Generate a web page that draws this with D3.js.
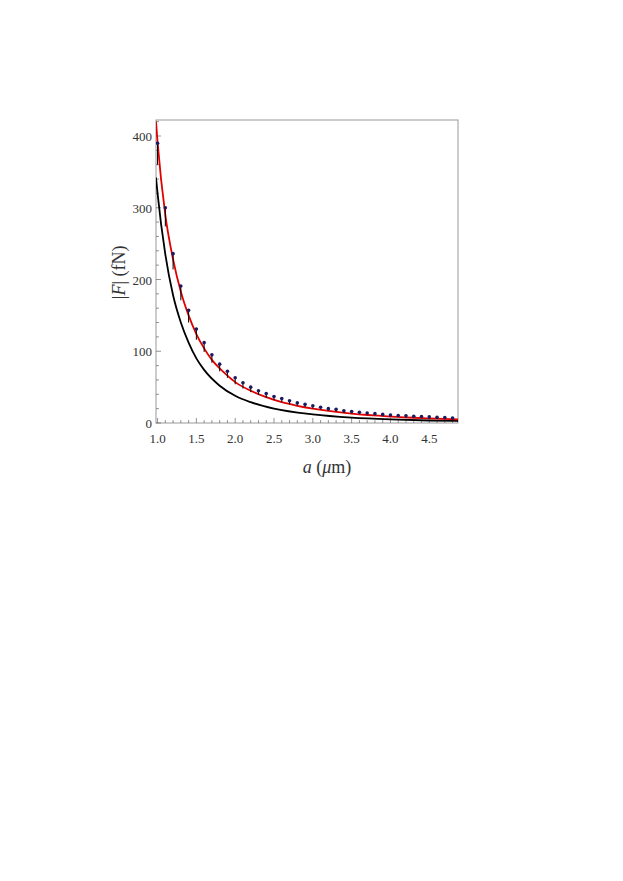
<!DOCTYPE html>
<html lang="en">
<head>
    <script src="https://cdnjs.cloudflare.com/ajax/libs/d3/7.8.5/d3.min.js"></script>
    <style>body{margin:0;background:#fff}</style>
</head>
<body>
<svg width="623" height="881" id="mainsvg"></svg>
<script>
    // measured points
    const pointA = [1.0,1.1,1.2,1.3,1.4,1.5,1.6,1.7,1.8,1.9,2.0,2.1,2.2,2.3,2.4,2.5,2.6,2.7,2.8,2.9,3.0,3.1,3.2,3.3,3.4,3.5,3.6,3.7,3.8,3.9,4.0,4.1,4.2,4.3,4.4,4.5,4.6,4.7,4.8]
    const pointF = [390,300,236,191,157,131,112,95,82,72,63,56,50,45,41,37,34,31,28,26,24,22,20,19,17,16,15,14,13,12,11,10.5,10,9.5,9,8.5,8,7.5,7]
    const pointErr = [30,26,22,20,17,15,13,11,10,9,9,8,7,6,6,5,5,5,4,4,4,3,3,3,3,3,2,2,2,2,2,2,2,2,2,2,2,2,2]
    // red theory curve
    const redA = [0.98,1.0,1.1,1.2,1.3,1.4,1.5,1.6,1.7,1.8,1.9,2.0,2.2,2.4,2.6,2.8,3.0,3.5,4.0,4.5,4.87]
    const redF = [420,392,290,228,183,150,124,104,88,76,66,57,45,36,29,24,20,13,9,6.5,5]
    // black theory curve
    const blackA = [0.98,1.0,1.1,1.2,1.3,1.4,1.5,1.6,1.8,2.0,2.2,2.5,3.0,3.5,4.0,4.5,4.87]
    const blackF = [342,320,235,178,140,112,90,74,52,38,29,20,12,7.5,5,3.5,2.8]
    const xTicks = [1.0,1.5,2.0,2.5,3.0,3.5,4.0,4.5]
    const yTicks = [0,100,200,300,400]

    const svg = d3.select('#mainsvg')
    const margin = {left:156, right:165, top:120, bottom:458}
    const x = d3.scaleLinear().domain([0.98, 4.87]).range([156, 458])
    const y = d3.scaleLinear().domain([0, 400]).range([423, 136])
    const font = '"Liberation Serif", "DejaVu Serif", serif'

    const g = svg.append('g')
    g.append('rect').attr('x', 156).attr('y', 120).attr('width', 302).attr('height', 303)
        .attr('fill', 'none').attr('stroke', '#999').attr('stroke-width', 1)

    // ticks (inside)
    d3.range(10, 49).map(d => d / 10).forEach(v => {
        const major = xTicks.some(t => Math.abs(t - v) < 1e-6)
        g.append('line').attr('x1', x(v)).attr('x2', x(v)).attr('y1', 423).attr('y2', 423 - (major ? 5 : 3))
            .attr('stroke', '#666').attr('stroke-width', 0.7)
    })
    d3.range(0, 421, 20).forEach(v => {
        const major = v % 100 === 0
        g.append('line').attr('x1', 156).attr('x2', 156 + (major ? 5 : 3)).attr('y1', y(v)).attr('y2', y(v))
            .attr('stroke', '#666').attr('stroke-width', 0.7)
    })
    xTicks.forEach(t => g.append('text').attr('x', x(t)).attr('y', 443).attr('text-anchor', 'middle')
        .attr('font-family', font).attr('font-size', 13).attr('fill', '#333').text(t.toFixed(1)))
    yTicks.forEach(t => g.append('text').attr('x', 152).attr('y', y(t) + 5).attr('text-anchor', 'end')
        .attr('font-family', font).attr('font-size', 13).attr('fill', '#333').text(t))

    // axis labels
    const xl = g.append('text').attr('x', 327).attr('y', 473).attr('text-anchor', 'middle')
        .attr('font-family', font).attr('font-size', 18).attr('fill', '#333')
    xl.append('tspan').attr('font-style', 'italic').text('a')
    xl.append('tspan').text(' (')
    xl.append('tspan').attr('font-style', 'italic').text('μ')
    xl.append('tspan').text('m)')
    const yl = g.append('text').attr('transform', `translate(125, ${y(210)}) rotate(-90)`).attr('text-anchor', 'middle')
        .attr('font-family', font).attr('font-size', 18).attr('fill', '#333')
    yl.append('tspan').text('|')
    yl.append('tspan').attr('font-style', 'italic').text('F')
    yl.append('tspan').text('| (fN)')

    const clip = svg.append('clipPath').attr('id', 'c').append('rect')
        .attr('x', 156).attr('y', 120).attr('width', 302).attr('height', 303)
    const plot = g.append('g').attr('clip-path', 'url(#c)')
    const line = d3.line().x(d => x(d[0])).y(d => y(d[1])).curve(d3.curveMonotoneX)
    plot.append('path').attr('d', line(blackA.map((a, i) => [a, blackF[i]])))
        .attr('fill', 'none').attr('stroke', '#000').attr('stroke-width', 1.8)
    plot.append('path').attr('d', line(redA.map((a, i) => [a, redF[i]])))
        .attr('fill', 'none').attr('stroke', '#e00000').attr('stroke-width', 1.8)

    pointA.forEach((a, i) => {
        plot.append('line').attr('x1', x(a)).attr('x2', x(a)).attr('y1', y(pointF[i])).attr('y2', y(pointF[i] - pointErr[i]))
            .attr('stroke', '#000').attr('stroke-width', 1)
        plot.append('circle').attr('cx', x(a)).attr('cy', y(pointF[i])).attr('r', 1.8).attr('fill', '#1a1a5e')
    })
</script>
</body>
</html>
